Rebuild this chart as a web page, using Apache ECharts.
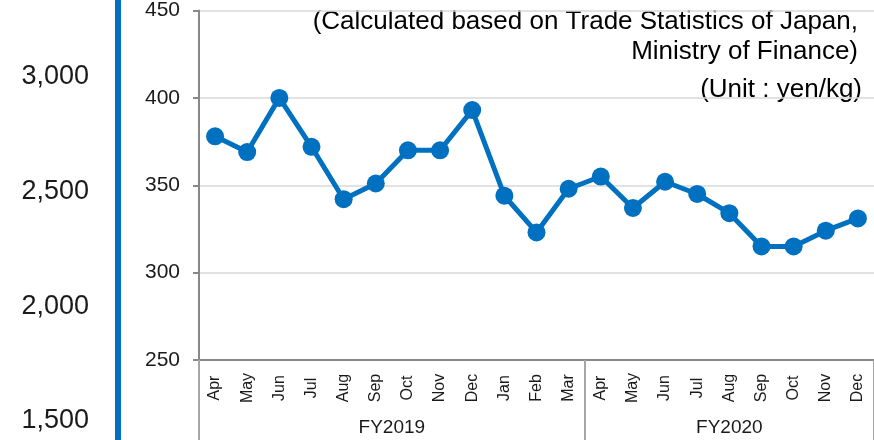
<!DOCTYPE html>
<html>
<head>
<meta charset="utf-8">
<script src="https://cdn.jsdelivr.net/npm/echarts@6/dist/echarts.min.js"></script>
<style>
  html, body { margin: 0; padding: 0; background: #fff; }
  #chart { width: 874px; height: 440px; }
</style>
</head>
<body>
<div id="chart"></div>
<script>
// months, two fiscal years (FY2019 Apr-Mar, FY2020 Apr-Dec)
const months = ['Apr', 'May', 'Jun', 'Jul', 'Aug', 'Sep', 'Oct', 'Nov', 'Dec', 'Jan', 'Feb', 'Mar',
    'Apr', 'May', 'Jun', 'Jul', 'Aug', 'Sep', 'Oct', 'Nov', 'Dec']
// yen/kg
const prices = [378, 369, 400, 372, 342, 351, 370, 370, 393, 344, 323, 348,
    355, 337, 352, 345, 334, 315, 315, 324, 331]
const fiscalYears = ['FY2019', 'FY2020']
const fyStarts = [0, 12, 21]          // category index where each FY starts (and end)
const fyCenters = [6, 16.5]           // label positions on the group axis
const noteLines = ['(Calculated based on Trade Statistics of Japan,', 'Ministry of Finance)', '(Unit : yen/kg)']
// tick labels of the neighbouring panel cut off on the left
const sideTicks = { min: 1500, max: 3000, step: 500 }

const font = 'Liberation Sans, Arial, sans-serif'
const blue = '#0070c0'
const axisGray = '#898989'
const textColor = '#1a1a1a'

const chart = echarts.init(document.getElementById('chart'))

chart.setOption({
    backgroundColor: '#fff',
    animation: false,
    grid: [
        { left: 199, right: -3, top: 5.5, bottom: 80 },
        { left: 97, width: 10, top: 77, bottom: 19 },
    ],
    xAxis: [
        {
            type: 'category',
            data: months,
            boundaryGap: true,
            axisLine: { lineStyle: { color: axisGray, width: 2 } },
            axisTick: { interval: 0, length: 47, lineStyle: { color: '#a6a6a6', width: 2 } },
            axisLabel: {
                interval: 0,
                rotate: 90,
                align: 'center',
                verticalAlign: 'middle',
                margin: 28,
                fontFamily: font,
                fontSize: 16,
                color: textColor,
            },
        },
        {
            type: 'value',
            min: 0,
            max: months.length,
            position: 'bottom',
            axisLine: { show: false },
            splitLine: { show: false },
            axisTick: { customValues: fyStarts, length: 80, lineStyle: { color: '#a6a6a6', width: 2 } },
            axisLabel: {
                customValues: fyCenters,
                formatter: (v) => fiscalYears[fyCenters.indexOf(v)] || '',
                verticalAlign: 'middle',
                margin: 68,
                fontFamily: font,
                fontSize: 19,
                color: textColor,
            },
        },
        { type: 'value', gridIndex: 1, show: false },
    ],
    yAxis: [
        {
            type: 'value',
            min: 250,
            max: 450,
            interval: 50,
            axisLine: { show: true, lineStyle: { color: axisGray, width: 2 } },
            axisTick: { show: true, length: 6, lineStyle: { color: axisGray, width: 2 } },
            splitLine: { lineStyle: { color: '#d9d9d9', width: 1.5 } },
            axisLabel: { margin: 19, fontFamily: font, fontSize: 21, color: textColor },
        },
        {
            type: 'value',
            gridIndex: 1,
            min: sideTicks.min,
            max: sideTicks.max,
            interval: sideTicks.step,
            axisLine: { show: false },
            axisTick: { show: false },
            splitLine: { show: false },
            axisLabel: {
                margin: 8,
                fontFamily: font,
                fontSize: 27,
                color: textColor,
                formatter: (v) => v.toLocaleString('en-US'),
            },
        },
    ],
    graphic: [
        { type: 'rect', left: 115, top: 0, shape: { width: 6, height: 440 }, style: { fill: blue } },
        {
            type: 'text', x: 858, y: 22,
            style: { text: noteLines[0], textAlign: 'right', textVerticalAlign: 'middle', font: '26px ' + font, fill: '#000' },
        },
        {
            type: 'text', x: 858, y: 52,
            style: { text: noteLines[1], textAlign: 'right', textVerticalAlign: 'middle', font: '26px ' + font, fill: '#000' },
        },
        {
            type: 'text', x: 862, y: 90,
            style: { text: noteLines[2], textAlign: 'right', textVerticalAlign: 'middle', font: '26px ' + font, fill: '#000' },
        },
    ],
    series: [
        {
            type: 'line',
            data: prices,
            symbol: 'circle',
            symbolSize: 18,
            lineStyle: { color: blue, width: 5 },
            itemStyle: { color: blue },
        },
    ],
})
</script>
</body>
</html>
